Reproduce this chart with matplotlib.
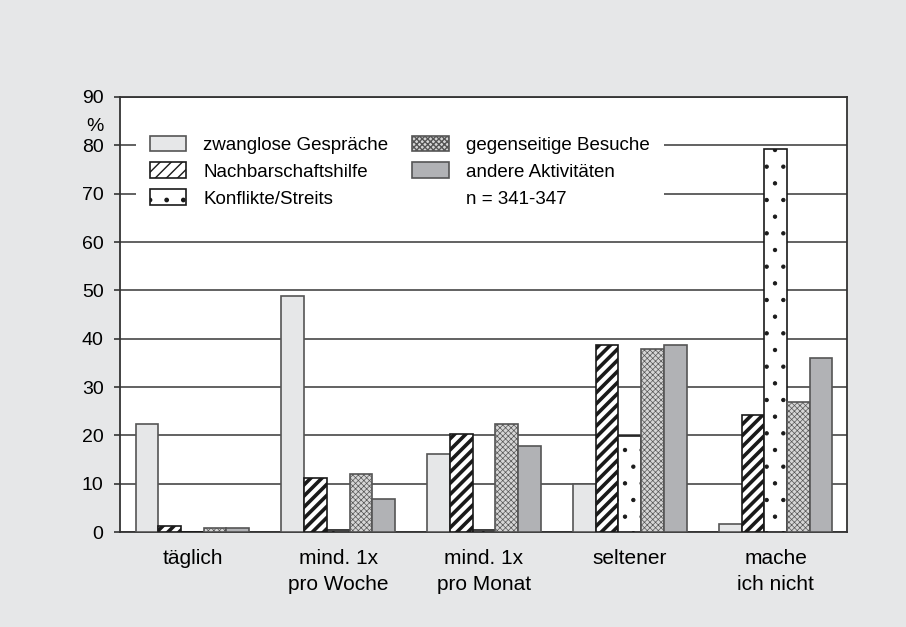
import numpy as np
import matplotlib
matplotlib.use("Agg")
import matplotlib.pyplot as plt
from matplotlib.patches import Patch

plt.rcParams['font.family'] = ['Liberation Sans', 'DejaVu Sans']

categories = ['täglich', 'mind. 1x\npro Woche', 'mind. 1x\npro Monat', 'seltener', 'mache\nich nicht']
series = ['zwanglose Gespräche', 'Nachbarschaftshilfe', 'Konflikte/Streits',
          'gegenseitige Besuche', 'andere Aktivitäten']
zwanglose = [22.3, 48.8, 16.1, 10.0, 1.7]
nachbarschaft = [1.3, 11.1, 20.2, 38.6, 24.2]
konflikte = [0.0, 0.4, 0.5, 19.8, 79.2]
besuche = [0.8, 12.1, 22.3, 37.8, 26.8]
andere = [0.8, 6.8, 17.7, 38.6, 36.1]
values = [zwanglose, nachbarschaft, konflikte, besuche, andere]

# style per series: facecolor, edgecolor, hatch, hatch linewidth
styles = [
    dict(facecolor='#e6e7e8', edgecolor='#555555', hatch=None, hlw=1.0),
    dict(facecolor='white', edgecolor='#1a1a1a', hatch='///', hlw=2.6),
    dict(facecolor='white', edgecolor='#1a1a1a', hatch='.', hlw=0.7),
    dict(facecolor='#d6d6d6', edgecolor='#555555', hatch='xxxxxx', hlw=0.5),
    dict(facecolor='#b1b2b5', edgecolor='#555555', hatch=None, hlw=1.0),
]

bg = '#e6e7e8'
fig = plt.figure(figsize=(9.06, 6.27), dpi=100, facecolor=bg)
ax = fig.add_axes([0.1319, 0.1515, 0.803, 0.6938])
ax.set_facecolor('white')

x = np.arange(len(categories))
width = 0.1557
handles = []
for i, (name, vals, st) in enumerate(zip(series, values, styles)):
    with plt.rc_context({'hatch.linewidth': st['hlw']}):
        ax.bar(x + (i - 2) * width, vals, width, facecolor=st['facecolor'],
               edgecolor=st['edgecolor'], hatch=st['hatch'], linewidth=1.2, zorder=3)
        handles.append(Patch(facecolor=st['facecolor'], edgecolor=st['edgecolor'],
                             hatch=st['hatch'], linewidth=1.2, label=name))
handles.append(Patch(facecolor='none', edgecolor='none', label='n = 341-347'))

ax.set_xlim(-0.5, 4.49)
ax.set_ylim(0, 90)
ax.set_yticks(range(0, 91, 10))
ax.yaxis.grid(True, color='#555555', linewidth=1.3, zorder=0)
ax.set_axisbelow(True)
ax.tick_params(axis='y', length=4.5, width=1.2, color='#333333', labelsize=14, pad=7)
ax.set_xticks(x)
ax.set_xticklabels(categories, fontsize=15, linespacing=1.5)
ax.tick_params(axis='x', length=0, pad=12)
for sp in ax.spines.values():
    sp.set_color('#333333')
    sp.set_linewidth(1.3)

ax.text(-0.0337, 0.932, '%', transform=ax.transAxes, fontsize=14, ha='center', va='center')

leg = ax.legend(handles=handles, ncol=2, loc='upper left', bbox_to_anchor=(0.0227, 0.9425),
                borderaxespad=0, fontsize=13.5, frameon=True, facecolor='white',
                edgecolor='none', framealpha=1, fancybox=False, handlelength=1.95,
                handleheight=0.92, handletextpad=0.92, columnspacing=1.28,
                labelspacing=0.46, borderpad=0.72)
leg.set_zorder(5)

fig.savefig('out.png', dpi=100, facecolor=bg)
